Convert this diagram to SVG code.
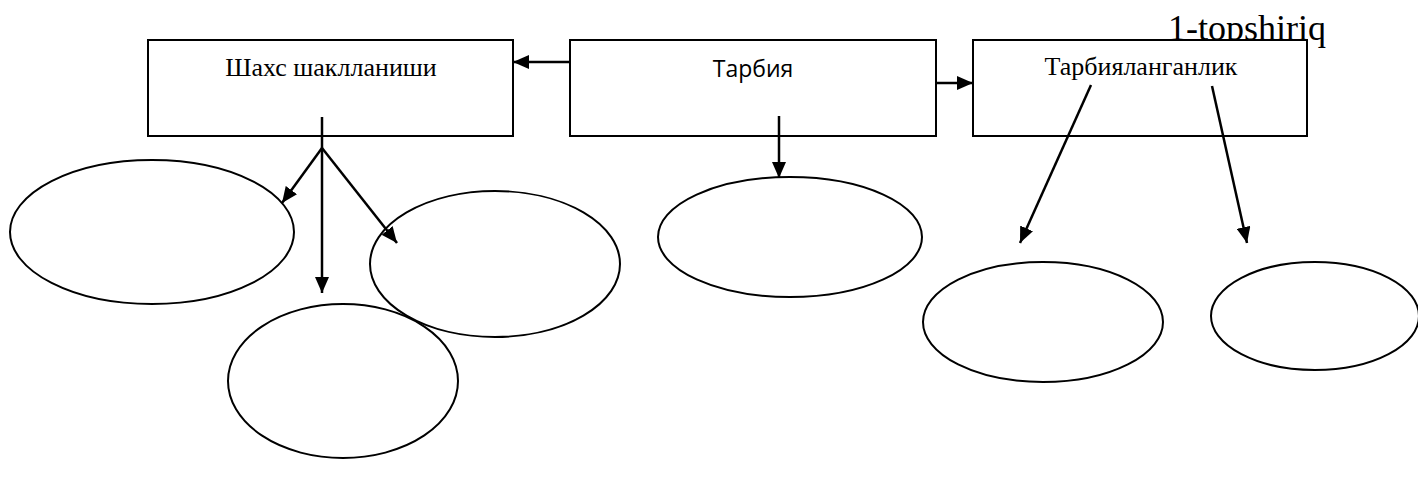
<svg xmlns="http://www.w3.org/2000/svg" width="1418" height="479" viewBox="0 0 1418 479">
<style>
.box{fill:#fff;stroke:#000;stroke-width:2}
.ell{fill:none;stroke:#000;stroke-width:2}
.ser{font-family:"Liberation Serif","Times New Roman",serif;fill:#000}
.sans{font-family:"Open Sans","Noto Sans",sans-serif;fill:#000}
.con{stroke:#000;stroke-width:2.5;fill:none}
.arr{marker-end:url(#ah)}
</style>
<defs>
<marker id="ah" markerUnits="userSpaceOnUse" markerWidth="16" markerHeight="14" viewBox="0 0 16 14" refX="16" refY="7" orient="auto">
<path d="M0,0 L16,7 L0,14 z" fill="#000"/>
</marker>
</defs>
<rect width="1418" height="479" fill="#fff"/>
<text id="title" class="ser" x="1168" y="40" font-size="36">1-topshiriq</text>
<g id="n-shaxs">
<rect class="box" x="148" y="40" width="365" height="96"/>
<text class="ser" x="331" y="76" font-size="26" text-anchor="middle">Шахс шаклланиши</text>
</g>
<g id="n-tarbiya">
<rect class="box" x="570" y="40" width="366" height="96"/>
<text class="sans" x="753" y="77" font-size="23" text-anchor="middle">Тарбия</text>
</g>
<g id="n-tarbiyalanganlik">
<rect class="box" x="973" y="40" width="334" height="96"/>
<text class="ser" x="1141" y="75" font-size="26" text-anchor="middle">Тарбияланганлик</text>
</g>
<g id="e1"><ellipse class="ell" cx="152" cy="232" rx="142" ry="72"/></g>
<g id="e2"><ellipse class="ell" cx="495" cy="264" rx="125" ry="73"/></g>
<g id="e3"><ellipse class="ell" cx="343" cy="381" rx="115" ry="77"/></g>
<g id="e4"><ellipse class="ell" cx="790" cy="237" rx="132" ry="60"/></g>
<g id="e5"><ellipse class="ell" cx="1043" cy="322" rx="120" ry="60"/></g>
<g id="e6"><ellipse class="ell" cx="1315" cy="316" rx="104" ry="54"/></g>
<g id="connectors">
<line class="con arr" x1="570" y1="62" x2="513" y2="62"/>
<line class="con arr" x1="936" y1="83" x2="973" y2="83"/>
<line class="con" x1="322" y1="117" x2="322" y2="148"/>
<line class="con arr" x1="322" y1="148" x2="322" y2="293"/>
<line class="con arr" x1="322" y1="148" x2="282" y2="203"/>
<line class="con arr" x1="322" y1="148" x2="397" y2="243"/>
<line class="con arr" x1="779" y1="116" x2="779" y2="178"/>
<line class="con arr" x1="1091" y1="85" x2="1020" y2="243"/>
<line class="con arr" x1="1212" y1="86" x2="1247" y2="243"/>
</g>
</svg>
